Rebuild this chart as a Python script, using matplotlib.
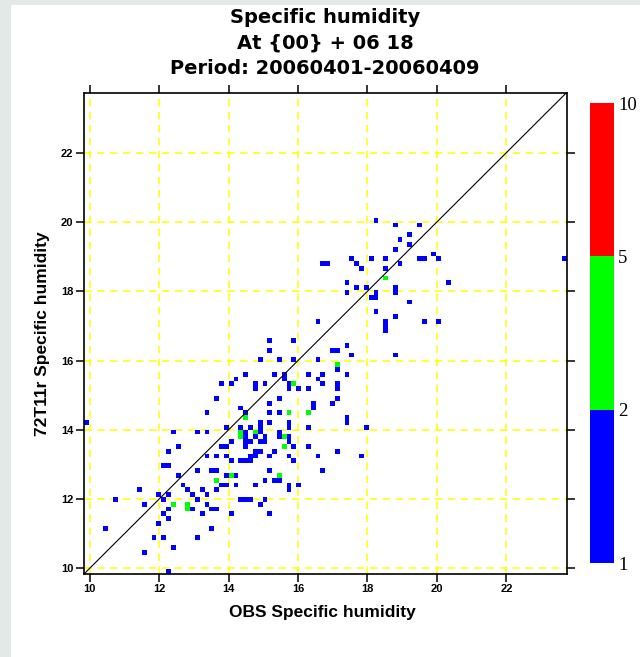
import matplotlib
matplotlib.use("Agg")
import matplotlib.pyplot as plt
import numpy as np
from matplotlib.colors import ListedColormap, BoundaryNorm
from matplotlib.patches import Rectangle

# cells with 1 case (blue) : (OBS, 72T11r)
blue_obs = [
    12.55, 12.27, 13.82, 13.96, 14.11, 13.38, 13.65, 13.96, 14.11, 12.13,
    12.27, 13.10, 13.53, 13.65, 12.55, 13.96, 14.25, 12.68, 13.82, 13.96,
    14.25, 11.44, 12.82, 13.24, 13.65, 12.01, 12.27, 12.96, 13.38, 10.70,
    13.10, 12.13, 11.58, 13.38, 12.96, 13.53, 13.65, 12.27, 12.13, 13.24,
    14.11, 12.27, 12.01, 10.42, 13.53, 11.86, 12.13, 13.10, 12.41, 11.58,
    12.27, 9.88, 12.41,
    13.65, 15.50, 17.07, 15.21, 16.48, 16.48, 16.94, 14.39, 13.38, 14.46,
    15.21, 15.50, 17.42, 17.42, 14.92, 14.92, 15.21, 15.77, 15.77, 13.96,
    14.39, 14.68, 16.33, 13.10, 13.38, 14.54, 14.96, 15.40, 14.54, 14.78,
    15.07, 15.50, 15.77, 14.54, 14.68, 14.92, 15.07, 15.77, 14.54, 15.92,
    16.33, 14.82, 14.96, 15.36, 17.20, 14.68, 14.82, 15.21, 15.77, 16.60,
    14.39, 14.54, 14.68, 15.92, 15.21, 16.76, 15.11, 15.26, 15.50, 14.82,
    15.77, 15.77, 16.06, 14.39, 14.54, 14.68, 15.07, 14.96, 15.21, 17.90,
    17.76,
    16.60, 15.21, 15.92, 17.35, 15.21, 16.94, 17.07, 17.48, 14.96, 15.50,
    15.92, 16.60, 17.07, 14.54, 15.36, 15.64, 16.33, 16.76, 17.35, 13.82,
    14.11, 14.25, 15.07, 15.64, 15.77, 15.77, 16.06, 16.33, 16.60, 16.76,
    17.07, 17.07, 14.82, 14.82, 18.46, 18.86,
    18.31, 18.86, 19.56, 19.15, 19.00, 19.15, 18.86, 16.71, 16.82, 17.48,
    17.63, 17.76, 18.05, 18.59, 19.00, 19.56, 19.70, 19.88, 20.01, 18.59,
    17.35, 17.35, 17.63, 17.90, 18.18, 18.05, 18.31, 18.73, 18.86, 18.73,
    20.30, 19.15, 18.31, 18.86, 18.59, 18.59, 19.70, 20.01, 23.65,
]
blue_fc = [
    13.53, 13.38, 13.53, 13.53, 13.65, 13.25, 13.25, 13.25, 13.12, 12.98,
    12.98, 12.83, 12.83, 12.83, 12.70, 12.70, 12.70, 12.43, 12.43, 12.43,
    12.43, 12.28, 12.28, 12.28, 12.28, 12.14, 12.14, 12.14, 12.14, 12.01,
    12.01, 12.01, 11.86, 11.86, 11.73, 11.73, 11.73, 11.73, 11.58, 11.58,
    11.58, 11.44, 11.31, 11.17, 11.17, 10.88, 10.88, 10.88, 10.56, 10.43,
    9.87, 14.27, 13.99,
    14.97, 14.97, 14.97, 14.83, 14.83, 14.69, 14.83, 14.69, 14.54, 14.54,
    14.54, 14.54, 14.42, 14.27, 14.27, 14.13, 14.27, 14.27, 14.13, 14.13,
    14.13, 14.13, 14.13, 13.99, 13.99, 13.99, 13.99, 13.99, 13.84, 13.84,
    13.84, 13.84, 13.84, 13.70, 13.70, 13.70, 13.70, 13.70, 13.53, 13.53,
    13.53, 13.40, 13.40, 13.40, 13.40, 13.25, 13.25, 13.25, 13.25, 13.25,
    13.12, 13.12, 13.12, 13.12, 12.83, 12.83, 12.56, 12.56, 12.56, 12.43,
    12.37, 12.23, 12.37, 12.01, 12.01, 12.01, 12.01, 11.86, 11.58, 14.13,
    13.25,
    17.08, 16.63, 16.63, 16.48, 16.35, 16.35, 16.35, 16.21, 16.07, 16.07,
    16.07, 16.07, 15.79, 15.66, 15.66, 15.66, 15.66, 15.66, 15.66, 15.38,
    15.38, 15.52, 15.38, 15.52, 15.38, 15.23, 15.23, 15.23, 15.52, 15.38,
    15.38, 15.23, 15.31, 15.17, 16.79, 16.21,
    20.06, 19.89, 19.89, 19.58, 19.44, 19.31, 19.16, 18.75, 18.75, 18.88,
    18.75, 18.61, 18.88, 18.88, 18.75, 18.88, 18.88, 19.03, 18.88, 18.61,
    18.19, 17.91, 18.05, 18.05, 17.91, 17.77, 17.77, 18.05, 18.05, 17.91,
    18.19, 17.64, 17.36, 17.22, 17.08, 16.95, 17.08, 17.08, 18.94,
]
# cells with 2-4 cases (green)
green_obs = [14.11, 13.65, 12.41, 12.82, 12.82, 14.54, 15.77, 16.33, 14.39,
             14.82, 14.39, 15.64, 15.64, 15.50, 17.20, 15.92, 18.59]
green_fc = [12.70, 12.56, 11.86, 11.86, 11.73, 14.42, 14.54, 14.54, 13.99,
            13.99, 13.84, 13.84, 13.53, 12.70, 15.93, 15.38, 18.33]

levels = [1, 2, 5, 10]
level_colors = ["#0000ff", "#00ff00", "#ff0000"]
lo, hi, nbins = 9.84, 23.73, 100

obs = np.array(blue_obs + green_obs)
fc = np.array(blue_fc + green_fc)
cases = np.array([1] * len(blue_obs) + [3] * len(green_obs))

edges = np.linspace(lo, hi, nbins + 1)
ix = np.clip(np.searchsorted(edges, obs) - 1, 0, nbins - 1)
iy = np.clip(np.searchsorted(edges, fc) - 1, 0, nbins - 1)
grid = np.zeros((nbins, nbins))
np.maximum.at(grid, (iy, ix), cases)
grid = np.ma.masked_equal(grid, 0)

fig = plt.figure(figsize=(6.4, 6.57), dpi=100)
fig.set_facecolor("#e3e9e7")
fig.patches.append(Rectangle((11 / 640, 0), 1, 1 - 5 / 657, transform=fig.transFigure,
                             facecolor="white", edgecolor="none", zorder=-10))

ax = fig.add_axes([84 / 640, 83 / 657, 482.5 / 640, 481.3 / 657])
cmap = ListedColormap(level_colors)
norm = BoundaryNorm(levels, cmap.N)
mesh = ax.pcolormesh(edges, edges, grid, cmap=cmap, norm=norm, zorder=2)
ax.plot([lo, hi], [lo, hi], color="black", lw=0.8, zorder=3)

ax.set_xlim(lo, hi)
ax.set_ylim(lo, hi)
ticks = np.arange(10, 23, 2)
ax.set_xticks(ticks)
ax.set_yticks(ticks)
ax.set_axisbelow(True)
ax.grid(color="#ffff00", linestyle=(0, (5, 3.5)), linewidth=1.1)
ax.tick_params(direction="out", top=True, right=True, length=5.5, width=1.1,
               labelsize=8, pad=2)
for lab in ax.get_xticklabels() + ax.get_yticklabels():
    lab.set_fontweight("bold")
    lab.set_fontfamily("Liberation Sans")
for sp in ax.spines.values():
    sp.set_linewidth(1.2)

fig.text(43 / 640, (83 + 481.3 / 2) / 657, "72T11r Specific humidity", rotation=90,
         ha="center", va="center", fontsize=12.5, fontweight="bold", family="Liberation Sans")
fig.text(322 / 640, 1 - 612 / 657, "OBS Specific humidity", ha="center", va="center",
         fontsize=12.5, fontweight="bold", family="Liberation Sans")

title_lines = ["Specific humidity", "At {00} + 06 18", "Period: 20060401-20060409"]
for k, line in enumerate(title_lines):
    fig.text(325 / 640, 1 - (23 + 25.5 * k) / 657, line, ha="center", va="baseline",
             fontsize=14, fontweight="bold", family="DejaVu Sans")

cax = fig.add_axes([590 / 640, 94 / 657, 24 / 640, 460 / 657])
cb = fig.colorbar(mesh, cax=cax, ticks=levels, spacing="uniform")
cb.outline.set_visible(False)
cax.tick_params(length=0, labelsize=13.5, pad=3)
for lab in cax.get_yticklabels():
    lab.set_fontfamily("Liberation Serif")

fig.savefig("out.png", dpi=100, facecolor=fig.get_facecolor())
